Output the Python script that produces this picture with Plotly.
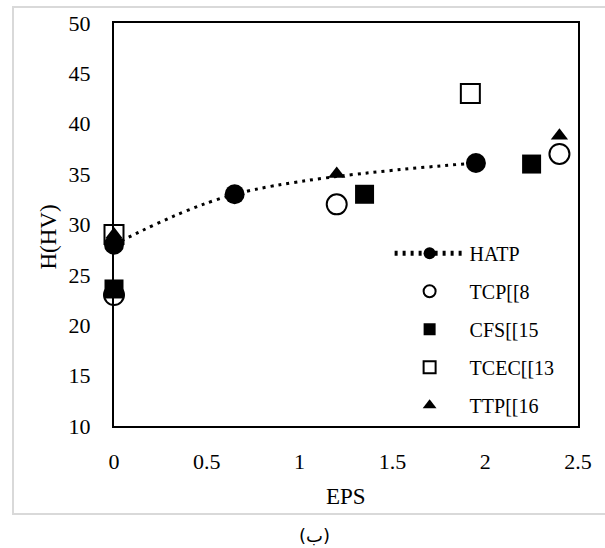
import plotly.graph_objects as go

# Hardness H(HV) against equivalent plastic strain (EPS)
hatp_eps = [0, 0.65, 1.95]
hatp_h = [28, 33, 36.1]

tcp_eps = [0, 1.2, 2.4]
tcp_h = [23, 32, 37]

cfs_eps = [0, 1.35, 2.25]
cfs_h = [23.6, 33, 36]

tcec_eps = [0, 1.92]
tcec_h = [29, 43]

ttp_eps = [0, 1.2, 2.4]
ttp_h = [29, 35, 38.8]

x_ticks = [0, 0.5, 1, 1.5, 2, 2.5]
x_tick_text = ["0", "0.5", "1", "1.5", "2", "2.5"]
y_ticks = [10, 15, 20, 25, 30, 35, 40, 45, 50]

SERIF = "Liberation Serif"

fig = go.Figure()

fig.add_trace(go.Scatter(
    x=hatp_eps, y=hatp_h, name="HATP", mode="lines+markers",
    line=dict(color="black", width=3, dash="3px,5px", shape="spline", smoothing=1),
    marker=dict(symbol="circle", size=20, color="black"),
    cliponaxis=False, legendgroup="a",
))
fig.add_trace(go.Scatter(
    x=tcp_eps, y=tcp_h, name="TCP[[8", mode="markers",
    marker=dict(symbol="circle-open", size=20, color="black", line=dict(width=2)),
    cliponaxis=False, legendgroup="b",
))
fig.add_trace(go.Scatter(
    x=cfs_eps, y=cfs_h, name="CFS[[15", mode="markers",
    marker=dict(symbol="square", size=19, color="black"),
    cliponaxis=False, legendgroup="c",
))
fig.add_trace(go.Scatter(
    x=tcec_eps, y=tcec_h, name="TCEC[[13", mode="markers",
    marker=dict(symbol="square-open", size=19, color="black", line=dict(width=2)),
    cliponaxis=False, legendgroup="d",
))
fig.add_trace(go.Scatter(
    x=ttp_eps, y=ttp_h, name="TTP[[16", mode="markers",
    marker=dict(symbol="triangle-up", size=15, color="black"),
    cliponaxis=False, legendgroup="e",
))

axis_common = dict(
    showgrid=False, zeroline=False, showline=True, mirror=True,
    linecolor="black", linewidth=2, ticks="outside",
    tickcolor="rgba(0,0,0,0)",
    tickfont=dict(family=SERIF, size=22, color="black"),
)

fig.update_layout(
    width=605, height=548,
    margin=dict(l=114, r=27, t=23, b=122),
    paper_bgcolor="white", plot_bgcolor="white",
    showlegend=True,
    legend=dict(
        x=0.594, y=0.477, xanchor="left", yanchor="top",
        bgcolor="rgba(0,0,0,0)", itemsizing="constant", itemwidth=70,
        traceorder="grouped", tracegroupgap=9,
        font=dict(family=SERIF, size=20, color="black"),
    ),
    xaxis=dict(range=[0, 2.5], tickvals=x_ticks, ticktext=x_tick_text,
               ticklen=15, **axis_common),
    yaxis=dict(range=[10, 50], tickvals=y_ticks, ticklen=17, **axis_common),
    shapes=[dict(
        type="rect", xref="paper", yref="paper",
        x0=-0.2177, x1=1.07, y0=-0.2184, y1=1.0397,
        line=dict(color="#d9d9d9", width=2), layer="below",
    )],
    annotations=[
        dict(text="EPS", xref="paper", yref="paper", x=0.5, y=-0.174,
             showarrow=False, xanchor="center", yanchor="middle",
             font=dict(family=SERIF, size=23, color="black")),
        dict(text="H(HV)", xref="paper", yref="paper", x=-0.142, y=0.468,
             showarrow=False, textangle=-90, xanchor="center", yanchor="middle",
             font=dict(family=SERIF, size=23, color="black")),
        dict(text="(ب)", xref="paper", yref="paper", x=0.433, y=-0.2705,
             showarrow=False, xanchor="center", yanchor="middle",
             font=dict(family="DejaVu Sans", size=18, color="black")),
    ],
)

fig.write_html("out.html")
